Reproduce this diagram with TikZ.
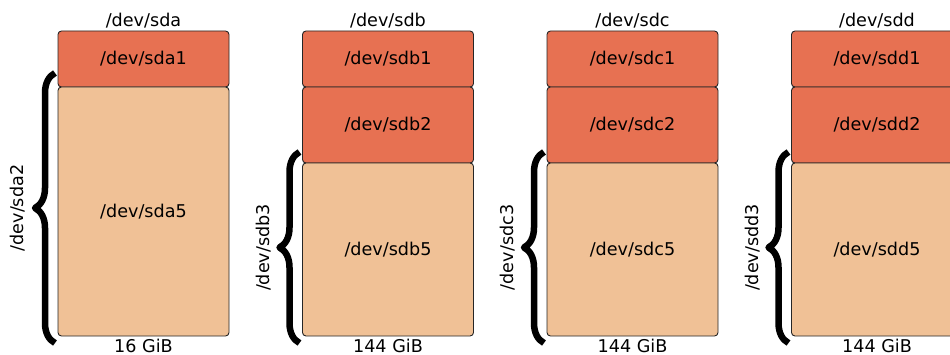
\documentclass[tikz,border=0pt]{standalone}
\usepackage{fontspec}
\setmainfont{DejaVu Sans}
\usepackage{tikz}
\usetikzlibrary{positioning,calc,decorations.pathreplacing}
\definecolor{prim}{HTML}{E77152}
\definecolor{logi}{HTML}{F0C196}
\definecolor{line}{HTML}{262626}

\begin{document}
\begin{tikzpicture}[x=1pt,y=1pt,line join=round,
  font=\fontsize{17.6}{20}\selectfont,
  part/.style={draw=line,line width=0.9pt,rounded corners=3.5pt,minimum width=171pt,
    inner sep=0pt,outer sep=0pt,anchor=north west},
  prim/.style={part,fill=prim},
  logi/.style={part,fill=logi},
  lbl/.style={inner sep=0pt},
  brc/.style={decorate,decoration={brace,amplitude=20pt},line width=6.5pt}]
  \useasboundingbox (0,0) rectangle (950,354);
  % /dev/sda: one primary, the rest extended
  \node[prim,minimum height=56pt] (sda1) at (58,323) {/dev/sda1};
  \node[logi,minimum height=249pt] (sda5) at (sda1.south west) {/dev/sda5};
  \node[lbl,above=3pt of sda1] (sda) {/dev/sda};
  \node[lbl,below=3pt of sda5] (sizea) {16 GiB};
  \coordinate (sda2lo) at ($(sda5.south west)+(-3,-7)$);
  \coordinate (sda2hi) at ($(sda1.south west)+(-3,14)$);
  \draw[brc] (sda2lo) -- (sda2hi);
  \node[lbl,rotate=90] (sda2) at ($(sda2lo)!0.5!(sda2hi)+(-37,0)$) {/dev/sda2};
  % the three big disks
  \foreach \d/\x in {b/302.5,c/547,d/791.5}{
    \node[prim,minimum height=56pt] (sd\d1) at (\x,323) {/dev/sd\d1};
    \node[prim,minimum height=76pt] (sd\d2) at (sd\d1.south west) {/dev/sd\d2};
    \node[logi,minimum height=173pt] (sd\d5) at (sd\d2.south west) {/dev/sd\d5};
    \node[lbl,above=3pt of sd\d1] (sd\d) {/dev/sd\d};
    \node[lbl,below=3pt of sd\d5] (size\d) {144 GiB};
    \coordinate (sd\d3lo) at ($(sd\d5.south west)+(-3,-7)$);
    \coordinate (sd\d3hi) at ($(sd\d2.south west)+(-3,11)$);
    \draw[brc] (sd\d3lo) -- (sd\d3hi);
    \node[lbl,rotate=90] (sd\d3) at ($(sd\d3lo)!0.5!(sd\d3hi)+(-36,0)$) {/dev/sd\d3};
  }
\end{tikzpicture}
\end{document}
